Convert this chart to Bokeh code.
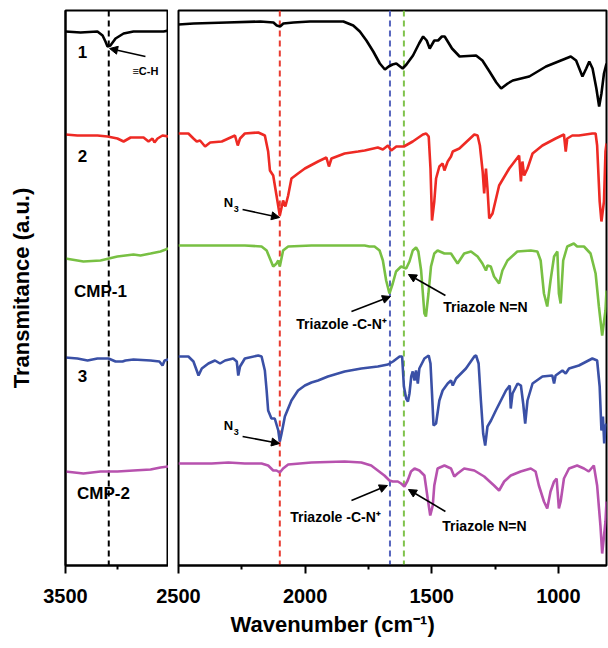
from bokeh.plotting import figure
from bokeh.layouts import row
from bokeh.models import Range1d, FixedTicker, Span, Arrow, NormalHead, Title
from bokeh.core.properties import value
from bokeh.embed import file_html
from bokeh.resources import INLINE

FONT = "Liberation Sans"

# ---------------- data: wavenumber (cm-1) and stacked transmittance (a.u.) ----------------
# sample 1 (black)
wn1_hi = [3500, 3427, 3345, 3320, 3306, 3296, 3282, 3257, 3218, 3170, 3087, 3024, 3000]
t1_hi = [534, 533, 534, 530, 524, 519, 520, 527, 532, 534, 534, 534, 535]
wn1_lo = [2500, 2440, 2309, 2177, 2125, 2112, 2099, 2086, 2046, 1981, 1915, 1849, 1810, 1784, 1758,
          1731, 1705, 1685, 1670, 1655, 1640, 1615, 1600, 1574, 1550, 1534, 1520, 1508, 1490, 1475,
          1460, 1449, 1420, 1390, 1325, 1300, 1272, 1245, 1226, 1200, 1180, 1115, 1049, 951, 930,
          905, 890, 878, 865, 850, 839, 830, 820, 810]
t1_lo = [541, 542, 543, 544, 543, 540, 539, 542, 543, 544, 544, 544, 540, 534, 525,
         514, 502, 496, 499, 501, 502, 497, 501, 510, 522, 529, 525, 517, 525, 525,
         529, 529, 517, 509, 510, 505, 494, 483, 477, 482, 485, 489, 499, 509, 505,
         489, 497, 504, 497, 477, 459, 472, 492, 502]

# sample 2 (red)
wn2_hi = [3500, 3442, 3345, 3296, 3248, 3218, 3184, 3121, 3097, 3078, 3068, 3053, 3029, 3000]
t2_hi = [431, 430, 430, 429, 427, 424, 428, 428, 424, 427, 423, 427, 430, 429]
wn2_lo = [2500, 2461, 2441, 2428, 2415, 2395, 2375, 2329, 2303, 2277, 2266, 2257, 2238, 2185, 2159,
          2146, 2139, 2126, 2113, 2100, 2087, 2078, 2067, 2054, 2028, 2001, 1949, 1916, 1906, 1896,
          1844, 1791, 1765, 1713, 1693, 1673, 1660, 1640, 1610, 1575, 1535, 1522, 1512, 1505, 1499,
          1490, 1483, 1470, 1457, 1450, 1437, 1424, 1417, 1391, 1332, 1319, 1310, 1299, 1293, 1286,
          1280, 1273, 1260, 1234, 1194, 1155, 1148, 1142, 1135, 1122, 1102, 1063, 1011, 978, 971,
          965, 945, 919, 866, 853, 847, 837, 830, 820, 814, 810]
t2_lo = [432, 432, 427, 424, 425, 419, 423, 424, 427, 430, 420, 427, 432, 433, 430,
         414, 395, 390, 370, 350, 365, 359, 370, 387, 392, 397, 404, 408, 399, 407,
         412, 414, 415, 418, 416, 420, 415, 419, 419, 424, 431, 432, 429, 397, 345,
         364, 387, 399, 402, 395, 404, 409, 414, 417, 431, 430, 420, 394, 372, 397,
         377, 347, 352, 380, 397, 410, 384, 404, 390, 397, 412, 420, 427, 431, 414,
         427, 430, 430, 432, 432, 420, 364, 344, 364, 414, 422]

# CMP-1 (green)
wn3_hi = [3500, 3413, 3330, 3248, 3170, 3136, 3087, 3039, 3000]
t3_hi = [307, 304, 305, 309, 311, 310, 312, 314, 317]
wn3_lo = [2500, 2369, 2238, 2172, 2152, 2139, 2126, 2113, 2106, 2100, 2087, 2067, 1975, 1844, 1765,
          1746, 1726, 1706, 1693, 1680, 1667, 1654, 1641, 1621, 1601, 1588, 1575, 1562, 1553, 1542,
          1529, 1523, 1513, 1503, 1490, 1477, 1450, 1424, 1398, 1385, 1372, 1345, 1319, 1300, 1286,
          1280, 1267, 1254, 1234, 1221, 1201, 1162, 1109, 1083, 1070, 1057, 1044, 1031, 1017, 1004,
          998, 991, 981, 965, 939, 926, 899, 873, 853, 840, 827, 814, 810]
t3_lo = [320, 320, 320, 319, 315, 307, 299, 302, 305, 299, 315, 319, 320, 320, 320,
         319, 319, 315, 305, 285, 272, 282, 294, 299, 297, 304, 315, 318, 314, 295,
         252, 249, 272, 299, 312, 315, 312, 312, 302, 307, 312, 314, 309, 302, 295,
         300, 299, 289, 282, 295, 305, 314, 315, 314, 305, 272, 259, 285, 309, 314,
         272, 262, 305, 319, 322, 319, 319, 312, 292, 259, 230, 255, 275]

# sample 3 (blue)
wn4_hi = [3500, 3442, 3393, 3345, 3291, 3257, 3223, 3209, 3170, 3087, 3044, 3029, 3019, 3000]
t4_hi = [208, 207, 205, 207, 207, 204, 204, 205, 206, 205, 204, 200, 205, 206]
wn4_lo = [2500, 2461, 2441, 2428, 2421, 2408, 2382, 2356, 2336, 2316, 2284, 2270, 2264, 2257, 2238,
          2185, 2172, 2159, 2152, 2146, 2133, 2120, 2106, 2100, 2093, 2080, 2054, 2028, 2001, 1975,
          1949, 1910, 1844, 1778, 1713, 1673, 1653, 1627, 1617, 1610, 1601, 1594, 1588, 1581, 1575,
          1568, 1562, 1555, 1549, 1529, 1512, 1505, 1499, 1493, 1483, 1470, 1457, 1437, 1424, 1417,
          1404, 1365, 1332, 1325, 1315, 1306, 1297, 1289, 1280, 1266, 1247, 1207, 1192, 1188, 1181,
          1161, 1148, 1139, 1131, 1122, 1102, 1063, 1024, 1017, 1011, 984, 971, 958, 919, 866,
          847, 837, 830, 824, 819, 814, 810]
t4_lo = [209, 209, 204, 195, 190, 197, 202, 205, 202, 205, 207, 204, 190, 199, 207,
         210, 209, 195, 175, 155, 147, 147, 135, 124, 132, 149, 165, 175, 180, 183,
         185, 189, 194, 197, 199, 201, 204, 209, 209, 179, 167, 164, 172, 189, 194,
         185, 195, 182, 197, 207, 210, 202, 172, 140, 142, 165, 175, 182, 185, 180,
         187, 197, 209, 210, 202, 165, 132, 120, 139, 145, 155, 175, 180, 157, 172,
         182, 180, 162, 142, 165, 182, 189, 190, 182, 190, 195, 192, 197, 200, 207,
         205, 179, 135, 149, 122, 139, 142]

# CMP-2 (magenta)
wn5_hi = [3500, 3413, 3330, 3248, 3170, 3087, 3039, 3000]
t5_hi = [94, 92, 94, 94, 95, 96, 98, 99]
wn5_lo = [2500, 2369, 2303, 2238, 2172, 2146, 2126, 2113, 2100, 2087, 2067, 1975, 1844, 1778, 1739,
          1713, 1687, 1667, 1654, 1634, 1621, 1608, 1595, 1582, 1568, 1549, 1529, 1516, 1506, 1496,
          1490, 1477, 1450, 1424, 1411, 1398, 1372, 1332, 1293, 1254, 1234, 1214, 1188, 1149, 1109,
          1090, 1077, 1057, 1044, 1031, 1017, 1007, 998, 991, 978, 958, 926, 899, 880, 860,
          847, 834, 827, 814, 810]
t5_lo = [102, 102, 103, 102, 102, 100, 95, 95, 93, 97, 101, 103, 104, 103, 100,
         95, 90, 85, 84, 84, 82, 79, 85, 94, 97, 95, 90, 67, 50, 60,
         80, 97, 100, 97, 89, 92, 97, 95, 89, 80, 75, 84, 90, 94, 97,
         94, 80, 64, 57, 74, 84, 87, 57, 64, 87, 97, 100, 97, 94, 100,
         80, 40, 12, 44, 64]

series_names = ["1", "2", "CMP-1", "3", "CMP-2"]
series_colors = ["#000000", "#ee2a24", "#78c043", "#3a50a6", "#b752ae"]
hi_x = [wn1_hi, wn2_hi, wn3_hi, wn4_hi, wn5_hi]
hi_y = [t1_hi, t2_hi, t3_hi, t4_hi, t5_hi]
lo_x = [wn1_lo, wn2_lo, wn3_lo, wn4_lo, wn5_lo]
lo_y = [t1_lo, t2_lo, t3_lo, t4_lo, t5_lo]

# reference bands (cm-1)
band_hi = [3290]
band_hi_colors = ["#000000"]
band_lo = [2100, 1665, 1610]
band_lo_colors = ["#e83a30", "#5664bd", "#80c34c"]

# sample labels (left panel)
lab_x = [3417, 3417, 3330, 3417, 3316]
lab_y = [514, 410, 274, 190, 72]

# ---------------- figures ----------------
H = 645
YR = (0, 555)
TOP = 10
BOTTOM = H - TOP - 555


def style_x(p):
    p.xgrid.visible = False
    p.ygrid.visible = False
    p.outline_line_color = "black"
    p.outline_line_width = 2
    p.outline_line_alpha = 1
    ax = p.xaxis[0]
    ax.axis_line_width = 2
    ax.axis_line_color = "black"
    ax.major_tick_line_width = 2
    ax.minor_tick_line_width = 2
    ax.major_tick_line_color = "black"
    ax.minor_tick_line_color = "black"
    ax.major_tick_in = 0
    ax.major_tick_out = 8
    ax.minor_tick_in = 0
    ax.minor_tick_out = 4
    ax.major_label_text_font = FONT
    ax.major_label_text_font_style = "bold"
    ax.major_label_text_font_size = "20px"
    ax.major_label_text_color = "black"
    ax.major_label_standoff = 15


left = figure(width=168, height=H, x_range=Range1d(3500, 3000), y_range=Range1d(*YR),
              output_backend="svg", toolbar_location=None,
              min_border_left=65, min_border_right=0, min_border_top=TOP, min_border_bottom=BOTTOM)
style_x(left)
left.xaxis.ticker = FixedTicker(ticks=[3500], minor_ticks=[3250])
ya = left.yaxis[0]
ya.ticker = FixedTicker(ticks=[])
ya.major_tick_out = 0
ya.minor_tick_out = 0
ya.major_tick_in = 0
ya.minor_tick_in = 0
ya.axis_line_width = 2
ya.axis_label = "Transmitance (a.u.)"
ya.axis_label_text_font = FONT
ya.axis_label_text_font_style = "bold"
ya.axis_label_text_font_size = "22px"
ya.axis_label_text_color = "black"
ya.axis_label_standoff = 32

right = figure(width=470, height=H, x_range=Range1d(2500, 810), y_range=Range1d(*YR),
               output_backend="svg", toolbar_location=None, y_axis_location=None,
               min_border_left=40, min_border_right=2, min_border_top=TOP, min_border_bottom=BOTTOM,
               border_fill_color=None, styles={"margin-left": "-30px"})
style_x(right)
right.xaxis.ticker = FixedTicker(ticks=[2500, 2000, 1500, 1000], minor_ticks=[2250, 1750, 1250])
right.add_layout(Title(text="Wavenumber (cm\u207b\u00b9)", align="left", offset=52, standoff=8,
                       text_font=FONT, text_font_style="bold", text_font_size="22px",
                       text_color="black"), "below")

# bands
for loc, col in zip(band_hi, band_hi_colors):
    left.add_layout(Span(location=loc, dimension="height", line_color=col,
                         line_dash="6 4", line_width=2, level="underlay"))
for loc, col in zip(band_lo, band_lo_colors):
    right.add_layout(Span(location=loc, dimension="height", line_color=col,
                          line_dash="6 4", line_width=2, level="underlay"))

# spectra
for i in range(5):
    left.line(hi_x[i], hi_y[i], line_color=series_colors[i], line_width=2.6)
    right.line(lo_x[i], lo_y[i], line_color=series_colors[i], line_width=2.6)

# labels
left.text(x=lab_x, y=lab_y, text=series_names, text_font=value(FONT), text_font_style="bold",
          text_font_size="17px", text_align="center", text_baseline="middle", text_color="black")
left.text(x=[3112], y=[495], text=["\u2261C-H"], text_font=value(FONT), text_font_style="bold",
          text_font_size="11px", text_align="center", text_baseline="middle", text_color="black")


def arrow(p, xs, ys, xe, ye):
    p.add_layout(Arrow(end=NormalHead(size=8, fill_color="black", line_color="black", line_width=1),
                       x_start=xs, y_start=ys, x_end=xe, y_end=ye,
                       line_color="black", line_width=1.6))


arrow(left, 3112, 509, 3286, 517)

right.text(x=[2303, 2303], y=[363, 140], text=["N", "N"], text_font=value(FONT),
           text_font_style="bold", text_font_size="13px", text_align="center",
           text_baseline="middle", text_color="black")
right.text(x=[2272, 2272], y=[357, 134], text=["3", "3"], text_font=value(FONT),
           text_font_style="bold", text_font_size="9px", text_align="center",
           text_baseline="middle", text_color="black")
right.text(x=[1856, 1288, 1880, 1292], y=[242, 259, 49, 40],
           text=["Triazole -C-N\u207a", "Triazole N=N", "Triazole -C-N\u207a", "Triazole N=N"],
           text_font=value(FONT), text_font_style="bold", text_font_size="14px",
           text_align="center", text_baseline="middle", text_color="black")

arrow(right, 2247, 356, 2101, 348)
arrow(right, 2247, 129, 2101, 122)
arrow(right, 1817, 254, 1663, 269)
arrow(right, 1446, 270, 1592, 291)
arrow(right, 1817, 65, 1675, 80)
arrow(right, 1446, 54, 1592, 76)

layout = row(left, right)
open("out.html", "w").write(file_html(layout, INLINE))
